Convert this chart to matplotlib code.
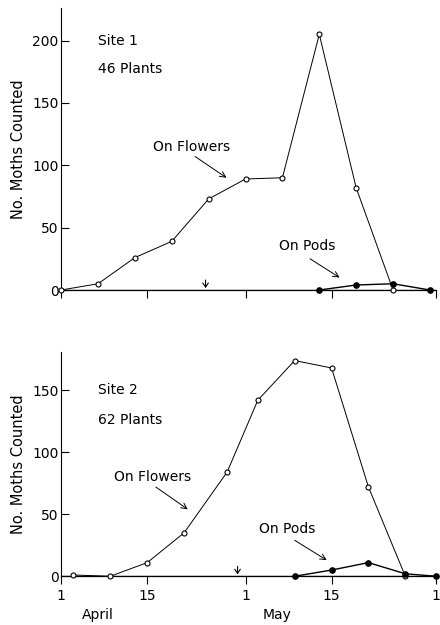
import matplotlib
matplotlib.use('Agg')
import matplotlib.pyplot as plt

# day numbers counted from 1 April (1 May = 31, 1 June = 62)
site1_flower_days = [1, 7, 13, 19, 25, 31, 37, 43, 49, 55]
site1_flowers = [0, 5, 26, 39, 73, 89, 90, 205, 82, 0]
site1_pod_days = [43, 49, 55, 61]
site1_pods = [0, 4, 5, 0]

site2_flower_days = [3, 9, 15, 21, 28, 33, 39, 45, 51, 57]
site2_flowers = [1, 0, 11, 35, 84, 142, 174, 168, 72, 0]
site2_pod_days = [39, 45, 51, 57, 62]
site2_pods = [0, 5, 11, 2, 0]

tick_days = [1, 15, 31, 45, 62]
tick_labels = ['1', '15', '1', '15', '1']

plt.rcParams['font.family'] = 'DejaVu Sans'
plt.rcParams['font.size'] = 10

fig = plt.figure(figsize=(4.4, 6.25), dpi=100)
ax1 = fig.add_axes([0.139, 0.536, 0.852, 0.451])
ax2 = fig.add_axes([0.139, 0.078, 0.852, 0.359])


def draw_panel(ax, fd, fv, pd, pv, ymax, yticks):
    ax.axhline(0, color='black', lw=0.9, zorder=1)
    ax.plot(fd, fv, color='black', lw=0.7, marker='o', ms=3.6,
            mfc='white', mec='black', mew=0.8, zorder=3, clip_on=False)
    ax.plot(pd, pv, color='black', lw=1.0, marker='o', ms=3.8,
            mfc='black', mec='black', zorder=4, clip_on=False)
    ax.set_xlim(1, 62)
    ax.set_ylim(0, ymax)
    ax.set_yticks(yticks)
    ax.set_xticks(tick_days)
    for s in ['top', 'right']:
        ax.spines[s].set_visible(False)
    ax.spines['left'].set_linewidth(0.8)
    ax.spines['bottom'].set_linewidth(0.9)
    ax.tick_params(axis='y', direction='in', length=6, width=0.8, pad=2)
    ax.tick_params(axis='x', direction='out', length=6, width=0.8, pad=3)
    ax.set_ylabel('No. Moths Counted', fontsize=10.5, labelpad=4)


draw_panel(ax1, site1_flower_days, site1_flowers, site1_pod_days, site1_pods,
           226, [0, 50, 100, 150, 200])
ax1.set_xticklabels([])
draw_panel(ax2, site2_flower_days, site2_flowers, site2_pod_days, site2_pods,
           181, [0, 50, 100, 150])
ax2.set_xticklabels(tick_labels)

arrow = dict(arrowstyle='->', color='black', lw=0.7, shrinkA=0, shrinkB=0)
small = dict(arrowstyle='->,head_length=0.3,head_width=0.2', color='black',
             lw=0.8, shrinkA=0, shrinkB=0)

# top panel labels
ax1.text(7.0, 200, 'Site 1', fontsize=10, va='center')
ax1.text(7.0, 177, '46 Plants', fontsize=10, va='center')
ax1.text(22.3, 115, 'On Flowers', fontsize=10, ha='center', va='center')
ax1.annotate('', xy=(27.9, 90), xytext=(22.8, 107), arrowprops=arrow)
ax1.text(41.0, 35, 'On Pods', fontsize=10, ha='center', va='center')
ax1.annotate('', xy=(46.3, 10), xytext=(41.5, 25), arrowprops=arrow)
ax1.annotate('', xy=(24.5, 1.5), xytext=(24.5, 8), arrowprops=small)

# bottom panel labels
ax2.text(7.0, 150, 'Site 2', fontsize=10, va='center')
ax2.text(7.0, 126, '62 Plants', fontsize=10, va='center')
ax2.text(15.8, 80, 'On Flowers', fontsize=10, ha='center', va='center')
ax2.annotate('', xy=(21.6, 54), xytext=(16.4, 72), arrowprops=arrow)
ax2.text(37.7, 38, 'On Pods', fontsize=10, ha='center', va='center')
ax2.annotate('', xy=(44.2, 13), xytext=(39.0, 29), arrowprops=arrow)
ax2.annotate('', xy=(29.7, 1.5), xytext=(29.7, 8), arrowprops=small)

fig.text(98 / 440, 1 - 615 / 625, 'April', fontsize=10, ha='center', va='center')
fig.text(277 / 440, 1 - 615 / 625, 'May', fontsize=10, ha='center', va='center')

fig.savefig('out.png', dpi=100)
